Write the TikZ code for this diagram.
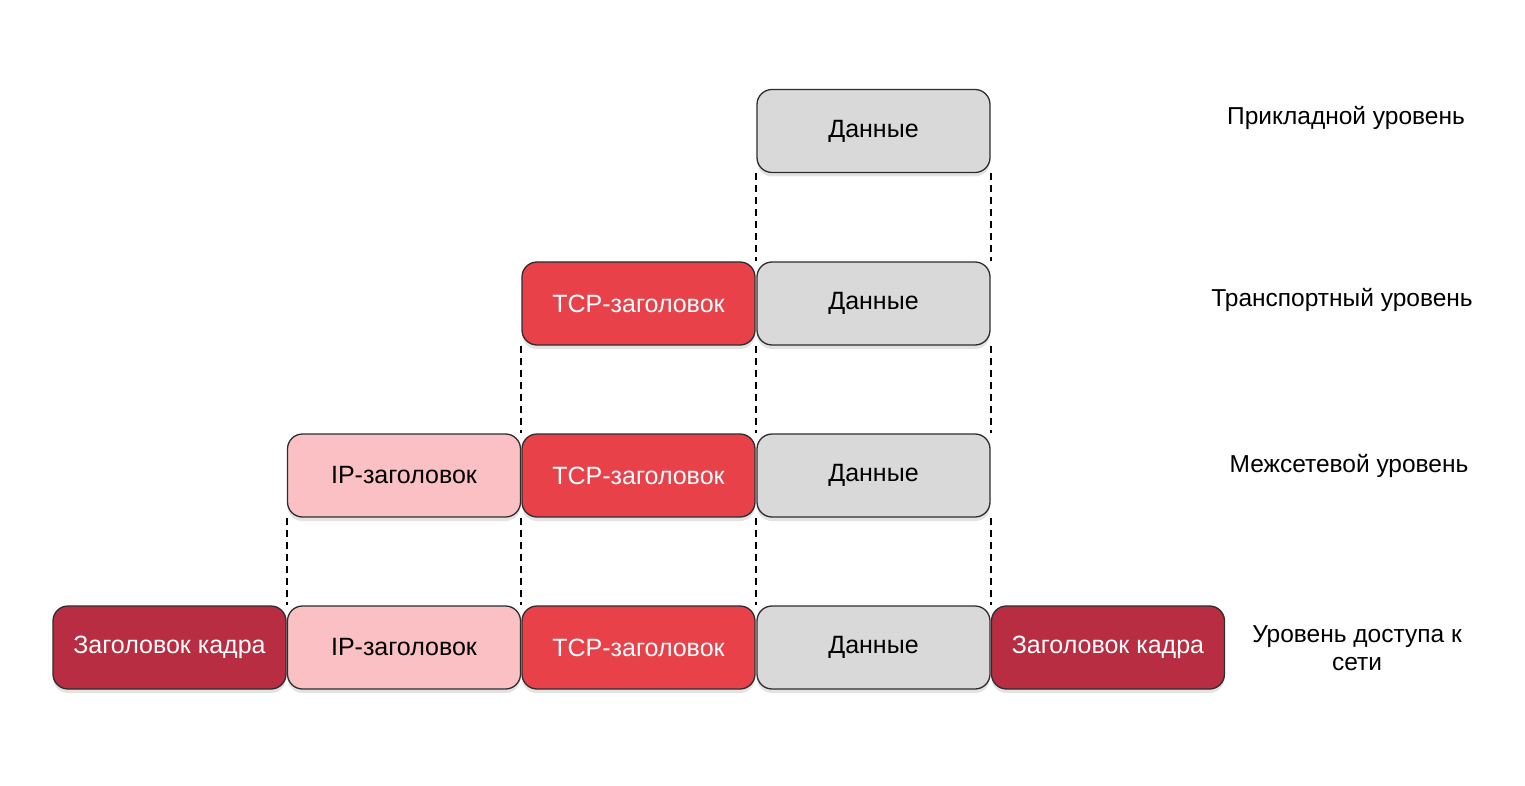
\documentclass[tikz,border=0pt]{standalone}
\usepackage{fontspec}
\setmainfont{Liberation Sans}
\usetikzlibrary{shadows}
\definecolor{dgrey}{HTML}{D9D9D9}
\definecolor{tcpred}{HTML}{E8414A}
\definecolor{ippink}{HTML}{FAC0C3}
\definecolor{framered}{HTML}{B92D42}
\definecolor{edge}{HTML}{2E2E2E}
\tikzset{
  pkt/.style={draw=edge, line width=1.3pt, rounded corners=15pt,
    minimum width=233pt, minimum height=83pt, inner sep=0pt,
    font=\fontsize{25}{30}\selectfont,
    drop shadow={opacity=0.22, shadow xshift=0pt, shadow yshift=-4pt}},
  datab/.style={pkt, fill=dgrey, text=black},
  tcpb/.style={pkt, fill=tcpred, text=white},
  ipb/.style={pkt, fill=ippink, text=black},
  frameb/.style={pkt, fill=framered, text=white},
  guide/.style={draw=black, line width=2.2pt, dash pattern=on 7pt off 5pt},
  lvl/.style={font=\fontsize{24.5}{28}\selectfont, align=center, text=black}
}
\begin{document}
\begin{tikzpicture}[x=1pt,y=-1pt]
\useasboundingbox (0,0) rectangle (1525,786);
\fill[white] (0,0) rectangle (1525,786);
% row 1
\node[datab] (d1) at (873.5,131) {Данные};
% row 2
\node[tcpb] (t2) at (638.5,303.5) {TCP-заголовок};
\node[datab] (d2) at (873.5,303.5) {Данные};
% row 3
\node[ipb] (i3) at (404,475.5) {IP-заголовок};
\node[tcpb] (t3) at (638.5,475.5) {TCP-заголовок};
\node[datab] (d3) at (873.5,475.5) {Данные};
% row 4
\node[frameb] (f4a) at (169.5,647.5) {Заголовок кадра};
\node[ipb] (i4) at (404,647.5) {IP-заголовок};
\node[tcpb] (t4) at (638.5,647.5) {TCP-заголовок};
\node[datab] (d4) at (873.5,647.5) {Данные};
\node[frameb] (f4b) at (1108,647.5) {Заголовок кадра};
% guides
\draw[guide] (d1.south west) -- (d2.north west);
\draw[guide] (d1.south east) -- (d2.north east);
\draw[guide] (t2.south west) -- (t3.north west);
\draw[guide] (d2.south west) -- (d3.north west);
\draw[guide] (d2.south east) -- (d3.north east);
\draw[guide] (i3.south west) -- (i4.north west);
\draw[guide] (t3.south west) -- (t4.north west);
\draw[guide] (d3.south west) -- (d4.north west);
\draw[guide] (d3.south east) -- (d4.north east);
% level labels
\node[lvl] (l1) at (1346,118) {Прикладной уровень};
\node[lvl] (l2) at (1342,300) {Транспортный уровень};
\node[lvl] (l3) at (1349,466) {Межсетевой уровень};
\node[lvl] (l4) at (1357,648) {Уровень доступа к\\сети};
\end{tikzpicture}
\end{document}
